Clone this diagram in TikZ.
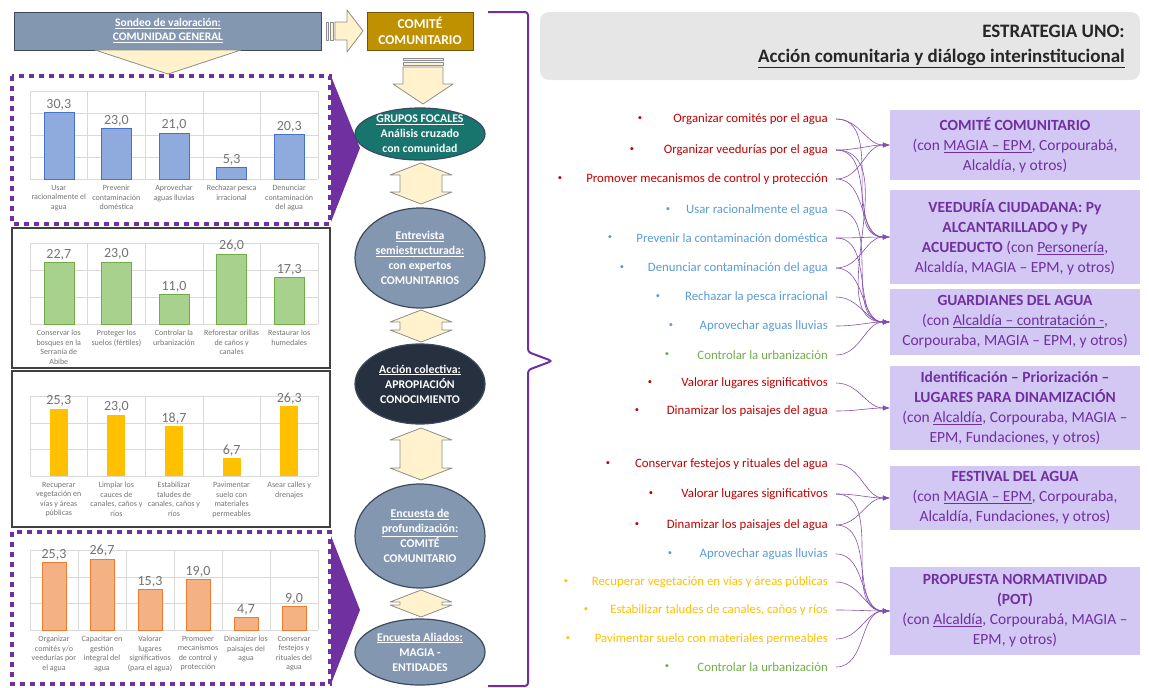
\documentclass[tikz,border=0pt]{standalone}
\usepackage{fontspec}
\setmainfont{Carlito}
\usetikzlibrary{shapes.geometric,arrows.meta,positioning}

\definecolor{purp}{HTML}{7030A0}
\definecolor{cream}{HTML}{FFF2CC}
\definecolor{slate}{HTML}{8497B0}
\definecolor{slatedk}{HTML}{3B4A5E}
\definecolor{goldc}{HTML}{BF9000}
\definecolor{tealc}{HTML}{17756E}
\definecolor{navyc}{HTML}{27303F}
\definecolor{lav}{HTML}{D3C8F4}
\definecolor{hdrgray}{HTML}{E6E6E6}
\definecolor{rtxt}{HTML}{C00000}
\definecolor{btxt}{HTML}{5B9BD5}
\definecolor{gtxt}{HTML}{70AD47}
\definecolor{ytxt}{HTML}{FFC000}

% double block arrow between two ovals
\newcommand{\dblarr}[2]{%
  \draw[blk] (421,#1) -- (452,{#1+12}) -- (442,{#1+12}) -- (442,{#2-12})
    -- (452,{#2-12}) -- (421,#2) -- (390,{#2-12}) -- (400,{#2-12})
    -- (400,{#1+12}) -- (390,{#1+12}) -- cycle;}

\begin{document}
\begin{tikzpicture}[x=1pt,y=-1pt,
  blk/.style={fill=cream,draw=black!45,line width=0.8pt,line join=round},
  panel/.style={draw=black!75,line width=1.2pt},
  purpdash/.style={draw=purp,line width=4pt,dash pattern=on 5pt off 5pt},
  gridline/.style={draw=black!15,line width=0.6pt},
  val/.style={anchor=south,inner sep=2pt,text=black!55,font=\fontsize{14}{14}\selectfont},
  cat/.style={anchor=north,inner sep=0pt,align=center,text=black!55,font=\fontsize{8}{9.5}\selectfont},
  bar1/.style={fill=barblue,draw=barbluedk,line width=0.6pt},
  bar2/.style={fill=bargreen,draw=bargreendk,line width=0.6pt},
  bar3/.style={fill=ytxt},
  bar4/.style={fill=barora,draw=baroradk,line width=0.6pt},
  oval/.style={ellipse,draw=slatedk,line width=1.2pt,minimum width=130pt,inner sep=0pt},
  ovaltxt/.style={text=white,align=center,font=\bfseries\fontsize{11.8}{15}\selectfont},
  lst/.style={anchor=east,inner sep=0pt,font=\fontsize{12.8}{14}\selectfont},
  bul/.style={inner sep=0pt,font=\fontsize{8.5}{14}\selectfont},
  goal/.style={fill=lav,text=purp,align=center,minimum width=250pt,font=\fontsize{15.5}{20}\selectfont},
  conn/.style={draw=purp!85,line width=0.6pt,-{Latex[length=7pt,width=5pt]}},
]
\definecolor{barblue}{HTML}{8FAADC}
\definecolor{barbluedk}{HTML}{4472C4}
\definecolor{bargreen}{HTML}{A9D18E}
\definecolor{bargreendk}{HTML}{70AD47}
\definecolor{barora}{HTML}{F4B183}
\definecolor{baroradk}{HTML}{ED7D31}
\useasboundingbox (0,0) rectangle (1149,688);

% top row
\node[draw=slatedk,fill=slate,line width=1pt,minimum width=307pt,minimum height=38pt,
  text=white,align=center,font=\bfseries\fontsize{11.5}{14}\selectfont]
  (son) at (168,31) {\underline{Sondeo de valoración:}\\\underline{COMUNIDAD GENERAL}};
\node[draw=goldc!60!black,fill=goldc,line width=0.8pt,minimum width=106pt,minimum height=38pt,
  text=white,align=center,font=\bfseries\fontsize{13.5}{16}\selectfont]
  (cc) at (420,31) {COMITÉ\\COMUNITARIO};
\draw[blk] (95,50) -- (241,50) -- (168,74) -- cycle;
\draw[blk] (326,22) rectangle (328,40);
\draw[blk] (330,22) rectangle (333,40);
\draw[blk] (335,22) -- (347,22) -- (347,10) -- (363,31) -- (347,52) -- (347,40) -- (335,40) -- cycle;
\draw[blk] (403,58) rectangle (443,60);
\draw[blk] (403,62) rectangle (443,65);
\draw[blk] (403,67) -- (443,67) -- (443,84) -- (453,84) -- (423,104) -- (393,84) -- (403,84) -- cycle;

% panels
\draw[purpdash] (12,76) rectangle (330,224);
\draw[panel] (12,228) rectangle (330,368);
\draw[panel] (12,371) rectangle (330,527);
\draw[purpdash] (12,532) rectangle (330,684);
\fill[purp] (331,76) -- (360,148) -- (331,222) -- cycle;
\fill[purp] (331,536) -- (360,610) -- (331,684) -- cycle;

% chart 1
\foreach \k in {0,...,4} \draw[gridline] (30,{179-22*\k}) -- (318,{179-22*\k});
\foreach \k in {0,...,5} \draw[gridline] ({30+57.6*\k},179) -- ({30+57.6*\k},91);
\foreach \hv/\lab/\txt [count=\n] in {30.3/{30,3}/{Usar\\racionalmente el\\agua},
    23.0/{23,0}/{Prevenir\\contaminación\\doméstica},
    21.0/{21,0}/{Aprovechar\\aguas lluvias},
    5.3/{5,3}/{Rechazar pesca\\irracional},
    20.3/{20,3}/{Denunciar\\contaminación\\del agua}}{
  \draw[bar1] ({30+57.6*(\n-0.5)-15},179) rectangle ({30+57.6*(\n-0.5)+15},{179-2.2*\hv});
  \node[val] (va\n) at ({30+57.6*(\n-0.5)},{179-2.2*\hv}) {\lab};
  \node[cat] (ca\n) at ({30+57.6*(\n-0.5)},185) {\txt};
}

% chart 2
\foreach \k in {0,...,3} \draw[gridline] (30,{324-27*\k}) -- (318,{324-27*\k});
\foreach \k in {0,...,5} \draw[gridline] ({30+57.6*\k},324) -- ({30+57.6*\k},243);
\foreach \hv/\lab/\txt [count=\n] in {22.7/{22,7}/{Conservar los\\bosques en la\\Serranía de\\Abibe},
    23.0/{23,0}/{Proteger los\\suelos (fértiles)},
    11.0/{11,0}/{Controlar la\\urbanización},
    26.0/{26,0}/{Reforestar orillas\\de caños y\\canales},
    17.3/{17,3}/{Restaurar los\\humedales}}{
  \draw[bar2] ({30+57.6*(\n-0.5)-15},324) rectangle ({30+57.6*(\n-0.5)+15},{324-2.7*\hv});
  \node[val] (vb\n) at ({30+57.6*(\n-0.5)},{324-2.7*\hv}) {\lab};
  \node[cat] (cb\n) at ({30+57.6*(\n-0.5)},330) {\txt};
}

% chart 3
\foreach \k in {0,...,3} \draw[gridline] (30,{476-26.6*\k}) -- (318,{476-26.6*\k});
\foreach \k in {0,...,5} \draw[gridline] ({30+57.6*\k},476) -- ({30+57.6*\k},396.2);
\foreach \hv/\lab/\txt [count=\n] in {25.3/{25,3}/{Recuperar\\vegetación en\\vías y áreas\\públicas},
    23.0/{23,0}/{Limpiar los\\cauces de\\canales, caños y\\ríos},
    18.7/{18,7}/{Estabilizar\\taludes de\\canales, caños y\\ríos},
    6.7/{6,7}/{Pavimentar\\suelo con\\materiales\\permeables},
    26.3/{26,3}/{Asear calles y\\drenajes}}{
  \fill[bar3] ({30+57.6*(\n-0.5)-9},476) rectangle ({30+57.6*(\n-0.5)+9},{476-2.66*\hv});
  \node[val] (vc\n) at ({30+57.6*(\n-0.5)},{476-2.66*\hv}) {\lab};
  \node[cat] (cc\n) at ({30+57.6*(\n-0.5)},482) {\txt};
}

% chart 4
\foreach \k in {0,...,3} \draw[gridline] (30,{630-26.6*\k}) -- (318,{630-26.6*\k});
\foreach \k in {0,...,6} \draw[gridline] ({30+48*\k},630) -- ({30+48*\k},550.2);
\foreach \hv/\lab/\txt [count=\n] in {25.3/{25,3}/{Organizar\\comités y/o\\veedurías por\\el agua},
    26.7/{26,7}/{Capacitar en\\gestión\\integral del\\agua},
    15.3/{15,3}/{Valorar\\lugares\\significativos\\(para el agua)},
    19.0/{19,0}/{Promover\\mecanismos\\de control y\\protección},
    4.7/{4,7}/{Dinamizar los\\paisajes del\\agua},
    9.0/{9,0}/{Conservar\\festejos y\\rituales del\\agua}}{
  \draw[bar4] ({30+48*(\n-0.5)-12},630) rectangle ({30+48*(\n-0.5)+12},{630-2.66*\hv});
  \node[val] (vd\n) at ({30+48*(\n-0.5)},{630-2.66*\hv}) {\lab};
  \node[cat] (cd\n) at ({30+48*(\n-0.5)},636) {\txt};
}

% middle column
\node[oval,fill=tealc,minimum height=52pt] (gf) at (420,134) {};
\node[ovaltxt] (gf-t) at (gf) {\underline{GRUPOS FOCALES}\\Análisis cruzado\\con comunidad};
\node[oval,fill=slate,minimum height=100pt] (ent) at (420,258) {};
\node[ovaltxt] (ent-t) at (ent) {\underline{Entrevista}\\\underline{semiestructurada:}\\con expertos\\COMUNITARIOS};
\node[oval,fill=navyc,minimum height=80pt] (acc) at (420,384) {};
\node[ovaltxt] (acc-t) at (acc) {\underline{Acción colectiva:}\\APROPIACIÓN\\CONOCIMIENTO};
\node[oval,fill=slate,minimum height=104pt] (enc) at (420,536) {};
\node[ovaltxt] (enc-t) at (enc) {\underline{Encuesta de}\\\underline{profundización:}\\COMITÉ\\COMUNITARIO};
\node[oval,fill=slate,minimum height=66pt] (ali) at (420,652) {};
\node[ovaltxt] (ali-t) at (ali) {\underline{Encuesta Aliados:}\\MAGIA -\\ENTIDADES};
\dblarr{163}{204}
\dblarr{310}{342}
\dblarr{428}{480}
\dblarr{590}{617}

% brace
\draw[purp,line width=2pt,rounded corners=3pt] (488,12) -- (528,12) -- (528,352)
  -- (552,361) -- (528,370) -- (528,686) -- (488,686);

% header
\node[fill=hdrgray,rounded corners=9pt,minimum width=600pt,minimum height=68pt] (hbox) at (840,46) {};
\node[anchor=east,align=right,text=black!85,font=\bfseries\fontsize{19}{25}\selectfont]
  (htit) at ([xshift=-12pt]hbox.east) {ESTRATEGIA UNO:\\\underline{Acción comunitaria y diálogo interinstitucional}};

% list of actions
\foreach \n/\y/\bx/\col/\txt in {1/119/640/rtxt/Organizar comités por el agua,
    2/150/632/rtxt/Organizar veedurías por el agua,
    3/179/560/rtxt/Promover mecanismos de control y protección,
    4/210/668/btxt/Usar racionalmente el agua,
    5/238/610/btxt/Prevenir la contaminación doméstica,
    6/268/622/btxt/Denunciar contaminación del agua,
    7/297/658/btxt/Rechazar la pesca irracional,
    8/326/671/btxt/Aprovechar aguas lluvias,
    9/355/667/gtxt/Controlar la urbanización,
    10/383/650/rtxt/Valorar lugares significativos,
    11/411/637/rtxt/Dinamizar los paisajes del agua,
    12/464/608/rtxt/Conservar festejos y rituales del agua,
    13/494/651/rtxt/Valorar lugares significativos,
    14/525/637/rtxt/Dinamizar los paisajes del agua,
    15/554/670/btxt/Aprovechar aguas lluvias,
    16/582/566/ytxt/Recuperar vegetación en vías y áreas públicas,
    17/610/586/ytxt/{Estabilizar taludes de canales, caños y ríos},
    18/639/568/ytxt/Pavimentar suelo con materiales permeables,
    19/667/667/gtxt/Controlar la urbanización}{
  \node[lst,text=\col] (i\n) at (828,\y) {\txt};
  \node[bul,text=\col] (d\n) at (\bx,\y) {\textbullet};
}

% goal boxes
\node[goal,minimum height=70pt] (bA) at (1015,145)
  {\textbf{COMITÉ COMUNITARIO}\\(con \underline{MAGIA – EPM}, Corpourabá,\\Alcaldía, y otros)};
\node[goal,minimum height=94pt] (bB) at (1015,237)
  {\textbf{VEEDURÍA CIUDADANA: Py}\\\textbf{ALCANTARILLADO y Py}\\\textbf{ACUEDUCTO} (con \underline{Personería},\\Alcaldía, MAGIA – EPM, y otros)};
\node[goal,minimum height=66pt] (bC) at (1015,322)
  {\textbf{GUARDIANES DEL AGUA}\\(con \underline{Alcaldía – contratación -},\\Corpouraba, MAGIA – EPM, y otros)};
\node[goal,minimum height=84pt] (bD) at (1015,408)
  {\textbf{Identificación – Priorización –}\\\textbf{LUGARES PARA DINAMIZACIÓN}\\(con \underline{Alcaldía}, Corpouraba, MAGIA –\\EPM, Fundaciones, y otros)};
\node[goal,minimum height=64pt] (bE) at (1015,498)
  {\textbf{FESTIVAL DEL AGUA}\\(con \underline{MAGIA – EPM}, Corpouraba,\\Alcaldía, Fundaciones, y otros)};
\node[goal,minimum height=88pt] (bF) at (1015,611)
  {\textbf{PROPUESTA NORMATIVIDAD}\\\textbf{(POT)}\\(con \underline{Alcaldía}, Corpourabá, MAGIA –\\EPM, y otros)};

% connectors
\foreach \s/\d in {1/bA,2/bA,3/bA,1/bB,2/bB,3/bB,5/bB,6/bB,
    2/bC,4/bC,5/bC,6/bC,7/bC,8/bC,9/bC,10/bD,11/bD,12/bE,13/bE,14/bE,
    13/bF,14/bF,15/bF,16/bF,17/bF,18/bF,19/bF}
  \draw[conn] ([xshift=8pt]i\s.east) to[out=0,in=180] (\d.west);
\end{tikzpicture}
\end{document}
